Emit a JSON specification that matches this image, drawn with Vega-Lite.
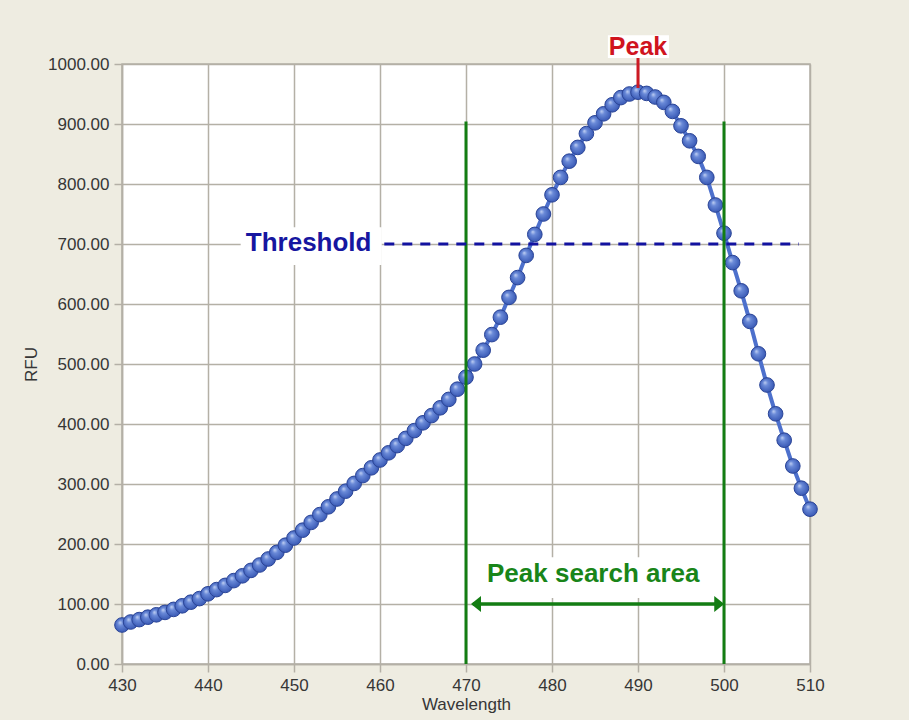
{
  "$schema": "https://vega.github.io/schema/vega-lite/v6.json",
  "width": 688,
  "height": 600,
  "autosize": {"type": "none"},
  "padding": {"left": 122, "top": 64, "right": 99, "bottom": 56},
  "background": "#eeece1",
  "config": {
    "view": {"fill": "white", "stroke": "#b4b0a6", "strokeWidth": 1.5},
    "axis": {
      "gridColor": "#b4b0a6",
      "gridWidth": 1.5,
      "domainColor": "#b4b0a6",
      "domainWidth": 1.5,
      "tickColor": "#b4b0a6",
      "tickWidth": 1.5,
      "tickSize": 8,
      "labelFlush": false,
      "labelOverlap": false,
      "labelFont": "Liberation Sans",
      "labelFontSize": 17,
      "labelColor": "#363636",
      "titleFont": "Liberation Sans",
      "titleFontSize": 17,
      "titleFontWeight": "normal",
      "titleColor": "#363636"
    }
  },
  "datasets": {
    "spectrum": [
      {"wavelength": 430, "rfu": 65}, {"wavelength": 431, "rfu": 70}, {"wavelength": 432, "rfu": 74},
      {"wavelength": 433, "rfu": 78}, {"wavelength": 434, "rfu": 82}, {"wavelength": 435, "rfu": 86},
      {"wavelength": 436, "rfu": 91}, {"wavelength": 437, "rfu": 97}, {"wavelength": 438, "rfu": 103},
      {"wavelength": 439, "rfu": 109}, {"wavelength": 440, "rfu": 117}, {"wavelength": 441, "rfu": 124},
      {"wavelength": 442, "rfu": 131}, {"wavelength": 443, "rfu": 139}, {"wavelength": 444, "rfu": 147},
      {"wavelength": 445, "rfu": 156}, {"wavelength": 446, "rfu": 165}, {"wavelength": 447, "rfu": 175},
      {"wavelength": 448, "rfu": 186}, {"wavelength": 449, "rfu": 198}, {"wavelength": 450, "rfu": 210},
      {"wavelength": 451, "rfu": 223}, {"wavelength": 452, "rfu": 236}, {"wavelength": 453, "rfu": 249},
      {"wavelength": 454, "rfu": 262}, {"wavelength": 455, "rfu": 275}, {"wavelength": 456, "rfu": 288},
      {"wavelength": 457, "rfu": 301}, {"wavelength": 458, "rfu": 314}, {"wavelength": 459, "rfu": 327},
      {"wavelength": 460, "rfu": 340}, {"wavelength": 461, "rfu": 352}, {"wavelength": 462, "rfu": 364},
      {"wavelength": 463, "rfu": 376}, {"wavelength": 464, "rfu": 389}, {"wavelength": 465, "rfu": 402},
      {"wavelength": 466, "rfu": 414}, {"wavelength": 467, "rfu": 427}, {"wavelength": 468, "rfu": 441},
      {"wavelength": 469, "rfu": 458}, {"wavelength": 470, "rfu": 478}, {"wavelength": 471, "rfu": 500},
      {"wavelength": 472, "rfu": 523}, {"wavelength": 473, "rfu": 549}, {"wavelength": 474, "rfu": 578},
      {"wavelength": 475, "rfu": 611}, {"wavelength": 476, "rfu": 644}, {"wavelength": 477, "rfu": 681},
      {"wavelength": 478, "rfu": 716}, {"wavelength": 479, "rfu": 750}, {"wavelength": 480, "rfu": 782},
      {"wavelength": 481, "rfu": 811}, {"wavelength": 482, "rfu": 838}, {"wavelength": 483, "rfu": 861},
      {"wavelength": 484, "rfu": 884}, {"wavelength": 485, "rfu": 902}, {"wavelength": 486, "rfu": 917},
      {"wavelength": 487, "rfu": 932}, {"wavelength": 488, "rfu": 944}, {"wavelength": 489, "rfu": 950},
      {"wavelength": 490, "rfu": 953}, {"wavelength": 491, "rfu": 951}, {"wavelength": 492, "rfu": 945},
      {"wavelength": 493, "rfu": 936}, {"wavelength": 494, "rfu": 921}, {"wavelength": 495, "rfu": 897},
      {"wavelength": 496, "rfu": 872}, {"wavelength": 497, "rfu": 846}, {"wavelength": 498, "rfu": 811},
      {"wavelength": 499, "rfu": 765}, {"wavelength": 500, "rfu": 718}, {"wavelength": 501, "rfu": 669},
      {"wavelength": 502, "rfu": 622}, {"wavelength": 503, "rfu": 571}, {"wavelength": 504, "rfu": 517},
      {"wavelength": 505, "rfu": 465}, {"wavelength": 506, "rfu": 417}, {"wavelength": 507, "rfu": 373},
      {"wavelength": 508, "rfu": 330}, {"wavelength": 509, "rfu": 293}, {"wavelength": 510, "rfu": 258}
    ],
    "labelBoxes": [
      {"label": "Threshold", "wavelength": 443.8, "wavelength2": 460.2, "rfu": 665, "rfu2": 728},
      {"label": "Peak search area", "wavelength": 472, "wavelength2": 498, "rfu": 110, "rfu2": 178},
      {"label": "Peak", "wavelength": 486.5, "wavelength2": 493.6, "rfu": 1010, "rfu2": 1048}
    ],
    "searchBounds": [
      {"wavelength": 470, "rfu": 0, "rfu2": 904},
      {"wavelength": 500, "rfu": 0, "rfu2": 904}
    ],
    "threshold": [{"wavelength": 460.5, "wavelength2": 508.7, "rfu": 700}],
    "peakMarker": [{"wavelength": 490, "rfu": 1010, "rfu2": 960}],
    "searchSpan": [{"wavelength": 470.8, "wavelength2": 499.2, "rfu": 100}],
    "arrowLeft": [{"wavelength": 471.16, "rfu": 100}],
    "arrowRight": [{"wavelength": 499.45, "rfu": 100}],
    "thresholdLabel": [{"wavelength": 451.7, "rfu": 688, "text": "Threshold"}],
    "searchLabel": [{"wavelength": 484.8, "rfu": 137, "text": "Peak search area"}],
    "peakLabel": [{"wavelength": 490, "rfu": 1015, "text": "Peak"}]
  },
  "encoding": {
    "x": {
      "field": "wavelength",
      "type": "quantitative",
      "title": "Wavelength",
      "scale": {"domain": [430, 510], "nice": false, "zero": false},
      "axis": {"values": [430, 440, 450, 460, 470, 480, 490, 500, 510], "labelPadding": 5, "titlePadding": 3}
    },
    "y": {
      "field": "rfu",
      "type": "quantitative",
      "title": "RFU",
      "scale": {"domain": [0, 1000], "nice": false},
      "axis": {"values": [0, 100, 200, 300, 400, 500, 600, 700, 800, 900, 1000], "format": ".2f", "labelPadding": 5, "titlePadding": 7}
    }
  },
  "layer": [
    {
      "data": {"name": "labelBoxes"},
      "mark": {"type": "rect", "fill": "white"},
      "encoding": {"x2": {"field": "wavelength2"}, "y2": {"field": "rfu2"}}
    },
    {
      "data": {"name": "spectrum"},
      "mark": {"type": "line", "color": "#4d70cc", "strokeWidth": 4}
    },
    {
      "data": {"name": "spectrum"},
      "mark": {
        "type": "point",
        "shape": "circle",
        "filled": true,
        "size": 215,
        "opacity": 1,
        "stroke": "#2b4597",
        "strokeWidth": 1,
        "fill": {
          "gradient": "radial",
          "x1": 0.35, "y1": 0.32, "r1": 0,
          "x2": 0.5, "y2": 0.5, "r2": 0.6,
          "stops": [
            {"offset": 0, "color": "#c4d3f4"},
            {"offset": 0.3, "color": "#6a8ad8"},
            {"offset": 1, "color": "#2e4ead"}
          ]
        }
      }
    },
    {
      "data": {"name": "searchBounds"},
      "mark": {"type": "rule", "color": "#137d13", "strokeWidth": 3},
      "encoding": {"y2": {"field": "rfu2"}}
    },
    {
      "data": {"name": "threshold"},
      "mark": {"type": "rule", "color": "#1212a0", "strokeWidth": 3, "strokeDash": [10, 8]},
      "encoding": {"x2": {"field": "wavelength2"}}
    },
    {
      "data": {"name": "peakMarker"},
      "mark": {"type": "rule", "color": "#cc1a24", "strokeWidth": 3},
      "encoding": {"y2": {"field": "rfu2"}}
    },
    {
      "data": {"name": "searchSpan"},
      "mark": {"type": "rule", "color": "#137d13", "strokeWidth": 3.5},
      "encoding": {"x2": {"field": "wavelength2"}}
    },
    {
      "data": {"name": "arrowLeft"},
      "mark": {"type": "point", "shape": "M-1,0L1,-1.6L1,1.6Z", "filled": true, "opacity": 1, "size": 100, "color": "#137d13"}
    },
    {
      "data": {"name": "arrowRight"},
      "mark": {"type": "point", "shape": "M1,0L-1,-1.6L-1,1.6Z", "filled": true, "opacity": 1, "size": 100, "color": "#137d13"}
    },
    {
      "data": {"name": "thresholdLabel"},
      "mark": {"type": "text", "font": "Liberation Sans", "fontSize": 26, "fontWeight": "bold", "color": "#1616a0", "align": "center", "baseline": "alphabetic"},
      "encoding": {"text": {"field": "text"}}
    },
    {
      "data": {"name": "searchLabel"},
      "mark": {"type": "text", "font": "Liberation Sans", "fontSize": 26, "fontWeight": "bold", "color": "#198519", "align": "center", "baseline": "alphabetic"},
      "encoding": {"text": {"field": "text"}}
    },
    {
      "data": {"name": "peakLabel"},
      "mark": {"type": "text", "font": "Liberation Sans", "fontSize": 25, "fontWeight": "bold", "color": "#d0141e", "align": "center", "baseline": "alphabetic"},
      "encoding": {"text": {"field": "text"}}
    }
  ]
}
